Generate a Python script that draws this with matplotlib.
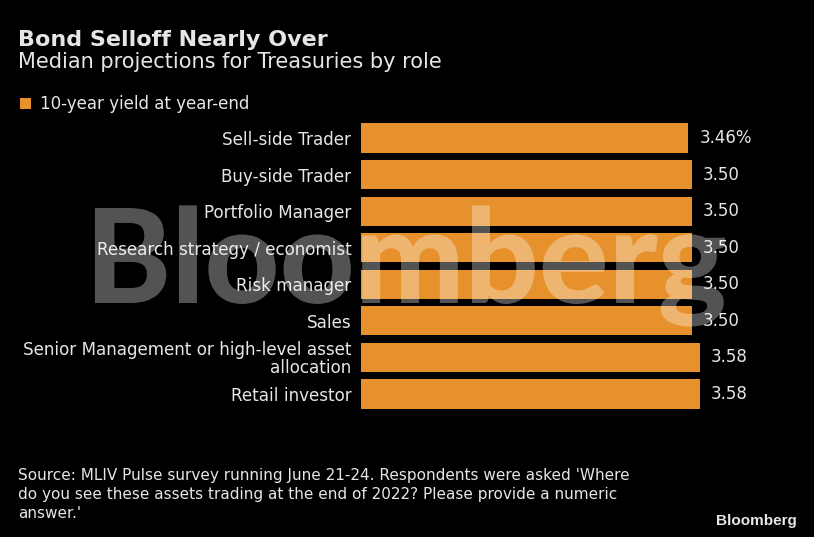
import matplotlib
matplotlib.use("Agg")
import matplotlib.pyplot as plt
from matplotlib.textpath import TextPath
from matplotlib.patches import PathPatch
from matplotlib.font_manager import FontProperties
from matplotlib.transforms import Affine2D, IdentityTransform

# ── Colours ───────────────────────────────────────────────────────────────────
BG = "#000000"
ORANGE = "#E6912C"
TEXT = "#E6E6E6"

# ── Data ──────────────────────────────────────────────────────────────────────
roles = [
    "Sell-side Trader",
    "Buy-side Trader",
    "Portfolio Manager",
    "Research strategy / economist",
    "Risk manager",
    "Sales",
    "Senior Management or high-level asset\nallocation",
    "Retail investor",
]
yields = [3.46, 3.50, 3.50, 3.50, 3.50, 3.50, 3.58, 3.58]
value_labels = ["3.46%", "3.50", "3.50", "3.50", "3.50", "3.50", "3.58", "3.58"]

W, H = 814, 537
fig = plt.figure(figsize=(W / 100, H / 100), dpi=100)
fig.patch.set_facecolor(BG)

# axes: x=0 at px 361, ~94.6 px per unit; rows every ~36.6 px
ax_left, ax_right = 361, 800
ax_top, ax_bot = 119.7, 412.3
ax = fig.add_axes([ax_left / W, 1 - ax_bot / H, (ax_right - ax_left) / W, (ax_bot - ax_top) / H])
ax.set_facecolor(BG)
ax.set_xlim(0, (ax_right - ax_left) / 94.6)
ax.set_ylim(len(roles) - 0.5, -0.5)

ypos = list(range(len(roles)))
ax.barh(ypos, yields, height=0.8, color=ORANGE, zorder=2)

for y, v, lab in zip(ypos, yields, value_labels):
    ax.text(v + 0.115, y, lab, va="center", ha="left", fontsize=12, color=TEXT)

ax.set_yticks(ypos)
ax.set_yticklabels(roles, fontsize=12.1, color=TEXT, linespacing=1.0)
ax.tick_params(axis="y", length=0, pad=7)
ax.set_xticks([])
for s in ax.spines.values():
    s.set_visible(False)

# ── Titles & legend ───────────────────────────────────────────────────────────
fig.text(18 / W, 1 - 40 / H, "Bond Selloff Nearly Over", fontsize=16, fontweight="bold",
         color=TEXT, va="center", ha="left")
fig.text(18 / W, 1 - 62 / H, "Median projections for Treasuries by role", fontsize=15,
         color=TEXT, va="center", ha="left")
fig.patches.append(plt.Rectangle((20 / W, 1 - 109 / H), 11 / W, 11 / H,
                                 transform=fig.transFigure, facecolor=ORANGE, edgecolor="none"))
fig.text(40 / W, 1 - 104 / H, "10-year yield at year-end", fontsize=12, color=TEXT,
         va="center", ha="left")

# ── Footer ────────────────────────────────────────────────────────────────────
fig.text(18 / W, 1 - 468 / H,
         "Source: MLIV Pulse survey running June 21-24. Respondents were asked 'Where\n"
         "do you see these assets trading at the end of 2022? Please provide a numeric\n"
         "answer.'",
         fontsize=11, color=TEXT, va="top", ha="left", linespacing=1.35)
fig.text(797 / W, 1 - 521 / H, "Bloomberg", fontsize=11, fontweight="bold", color=TEXT,
         va="center", ha="right", family="Liberation Sans")

# ── Watermark: heavy word stretched to fill px 85..725, cap 208..303 ──────────
wm_font = FontProperties(family="Lato", weight=900)
wm_path = TextPath((0, 0), "Bloomberg", size=1, prop=wm_font)
cap_h = TextPath((0, 0), "B", size=1, prop=wm_font).get_extents().y1
verts = wm_path.vertices
x0, x1 = verts[:, 0].min(), verts[:, 0].max()
sx = (725 - 85) / (x1 - x0)
sy = (303 - 208) / cap_h
trans = Affine2D().translate(-x0, 0).scale(sx, sy).translate(85, H - 303)
wm = PathPatch(trans.transform_path(wm_path), facecolor="white", edgecolor="none",
               alpha=0.33, transform=IdentityTransform(), zorder=10)
fig.patches.append(wm)

fig.savefig("out.png", dpi=100, facecolor=BG)
